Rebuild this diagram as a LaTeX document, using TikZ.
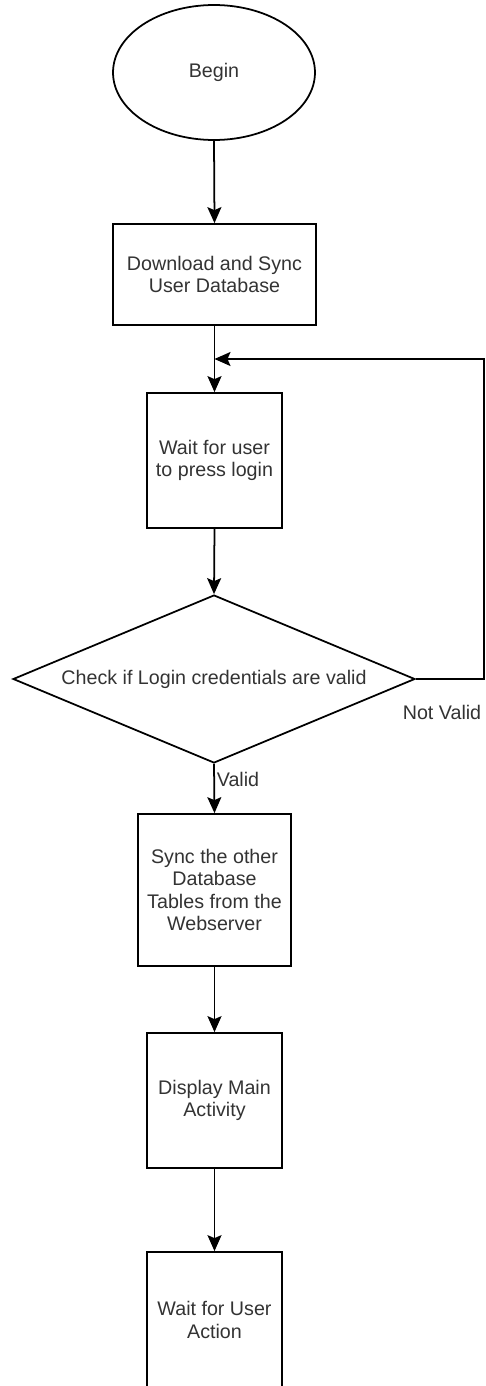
\documentclass[tikz,border=0pt]{standalone}
\usepackage{fontspec}
\setmainfont{Liberation Sans}
\usetikzlibrary{shapes,arrows.meta}
\tikzset{
         flowline/.style={line width=1pt,-{Stealth[length=0.32cm,width=0.28cm,inset=0.06cm]}},
         flowtext/.style={text=black!80,font=\fontsize{11.2}{12.6}\selectfont,align=center},
         procbox/.style={flowtext,draw,line width=1pt,rectangle,inner sep=0pt},
         startnode/.style={flowtext,draw,line width=1pt,ellipse,inner sep=0pt},
         checknode/.style={flowtext,draw,line width=1pt,diamond,shape aspect=2.39,inner sep=0pt}
        }
\begin{document}
\begin{tikzpicture}[x=0.02cm,y=-0.02cm]
\useasboundingbox (0,0) rectangle (486,1386);

\node[startnode,minimum width=4.04cm,minimum height=2.7cm] (begin) at (214,72.5){Begin}; %start
\node[procbox,minimum width=4.06cm,minimum height=2.02cm] (download) at (214.5,274.5){Download and Sync\\User Database};
\node[procbox,minimum width=2.7cm,minimum height=2.7cm] (waitlogin) at (214.5,460.5){Wait for user\\to press login};
\node[checknode,minimum width=8.04cm,minimum height=3.36cm] (check) at (214,679){Check if Login credentials are valid}; %decision
\node[procbox,minimum width=3.06cm,minimum height=3.04cm] (synctables) at (214.5,890){Sync the other\\Database\\Tables from the\\Webserver};
\node[procbox,minimum width=2.7cm,minimum height=2.7cm] (mainact) at (214.5,1100.5){Display Main\\Activity};
\node[procbox,minimum width=2.7cm,minimum height=2.72cm] (waitaction) at (214.5,1320){Wait for User\\Action};

\node[flowtext] (notvalid) at (442,712){Not Valid}; %no label
\node[flowtext] (valid) at (238,779){Valid}; %yes label

\coordinate (join) at (214.5,359);
\coordinate (corner) at (484,359);

\draw[flowline] (begin.south)--(download.north);
\draw[flowline] (download.south)--(waitlogin.north);
\draw[flowline] (waitlogin.south)--(check.north);
\draw[flowline] (check.south)--(synctables.north);
\draw[flowline] (synctables.south)--(mainact.north);
\draw[flowline] (mainact.south)--(waitaction.north);
\draw[flowline] (check.east)-|(corner)--(join); %loop back
\end{tikzpicture}
\end{document}
